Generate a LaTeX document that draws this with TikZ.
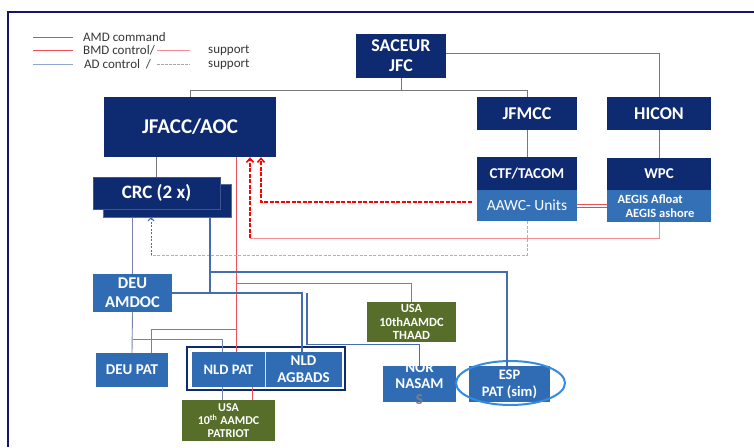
\documentclass[tikz,border=0pt]{standalone}
\usepackage{fontspec}
\setmainfont{Carlito}
\usetikzlibrary{arrows.meta}
\definecolor{navy}{RGB}{14,42,112}
\definecolor{lowblue}{RGB}{52,112,182}
\definecolor{midblue}{RGB}{47,108,180}
\definecolor{olivebox}{RGB}{86,110,42}
\definecolor{framec}{RGB}{22,22,100}
\definecolor{redl}{RGB}{240,80,90}
\definecolor{pinkl}{RGB}{245,140,150}
\definecolor{adblue}{RGB}{70,110,175}
\definecolor{adgray}{RGB}{120,130,170}
\definecolor{amdgray}{RGB}{120,120,120}
\definecolor{legtext}{RGB}{55,55,55}
\definecolor{ellc}{RGB}{50,140,225}
\begin{document}
\begin{tikzpicture}[x=1pt,y=-1pt,
  box/.style={rectangle, inner sep=0pt, text=white, align=center},
  dark/.style={box, fill=navy},
  light/.style={box, fill=lowblue},
  mid/.style={box, fill=midblue},
  olive/.style={box, fill=olivebox},
  fs/.style 2 args={font=\fontsize{#1}{#2}\selectfont\bfseries},
  amd/.style={draw=amdgray, line width=0.9pt},
  bmd/.style={draw=redl, line width=0.9pt},
  bmdthin/.style={draw=pinkl, line width=0.9pt},
  bmddash/.style={draw=red, line width=1.6pt, dash pattern=on 4pt off 1.5pt},
  ad/.style={draw=adblue, line width=1.3pt},
  adg/.style={draw=adgray, line width=0.9pt},
  adsup/.style={draw=gray!60, line width=0.8pt, dash pattern=on 3pt off 1.5pt},
  adsupb/.style={draw=adblue, line width=1pt, dash pattern=on 2pt off 1.5pt},
  chev/.style={-{Straight Barb[length=4pt,width=7pt]}},
  legtxt/.style={anchor=west, text=legtext, font=\fontsize{13}{15}\selectfont, inner sep=0pt}
]
\useasboundingbox (0,0) rectangle (754,447);
\fill[white] (0,0) rectangle (754,447);
\draw[framec, line width=2.5pt] (8,447) -- (8,12) -- (754,12);

% legend
\coordinate (l1a) at (33,37); \coordinate (l1b) at (73,37);
\coordinate (l2a) at (33,50); \coordinate (l2b) at (73,50);
\coordinate (l3a) at (33,64); \coordinate (l3b) at (73,64);
\coordinate (l4a) at (157,50); \coordinate (l4b) at (190,50);
\coordinate (l5a) at (157,64); \coordinate (l5b) at (190,64);
\draw[amd] (l1a) -- (l1b);
\draw[bmd] (l2a) -- (l2b);
\draw[draw=adblue!60, line width=0.9pt] (l3a) -- (l3b);
\draw[bmdthin] (l4a) -- (l4b);
\draw[draw=gray!70, line width=0.6pt, dash pattern=on 3pt off 1pt] (l5a) -- (l5b);
\node[legtxt] (t1) at (83,37) {AMD command};
\node[legtxt] (t2) at (83,50) {BMD control/};
\node[legtxt] (t3) at (84,64) {AD control\ \ /};
\node[legtxt] (t4) at (208,50) {support};
\node[legtxt] (t5) at (208,64) {support};

% nodes
\node[dark, fs={18}{20}, minimum width=90pt, minimum height=44pt] (saceur) at (401,56) {SACEUR\\JFC};
\node[dark, fs={21}{24}, minimum width=172pt, minimum height=60pt] (jfacc) at (190,127) {JFACC/AOC};
\node[dark, fs={18}{20}, minimum width=100pt, minimum height=33pt] (jfmcc) at (527,113.5) {JFMCC};
\node[dark, fs={18}{20}, minimum width=104pt, minimum height=33pt] (hicon) at (659,113.5) {HICON};
\node[dark, fs={15}{17}, minimum width=100pt, minimum height=33pt] (ctf) at (527,173.5) {CTF/TACOM};
\node[light, font=\fontsize{15.5}{17}\selectfont, minimum width=100pt, minimum height=31pt] (aawc) at (527,205.5) {AAWC- Units};
\node[dark, fs={15}{17}, minimum width=104pt, minimum height=32pt] (wpc) at (659,174) {WPC};
\node[light, minimum width=104pt, minimum height=32pt] (aegis) at (659,206) {};
\node[box, fs={12.5}{14}, align=left, inner sep=0pt] (aegist) at (656,206) {AEGIS Afloat\\\hspace*{8pt}AEGIS ashore};

\node[dark, draw=navy!70!white, line width=0.4pt, minimum width=128pt, minimum height=33pt] (crc) at (167,200.5) {};
\node[dark, draw=navy!80!white, line width=0.4pt, fs={19}{21}, minimum width=127pt, minimum height=32pt] (crcf) at (156.5,193) {CRC (2 x)};

\node[mid, fs={16.5}{19}, minimum width=79pt, minimum height=38pt] (deu) at (132.5,293) {DEU\\AMDOC};
\node[mid, fs={15}{17}, minimum width=72pt, minimum height=34pt] (depat) at (132,370) {DEU PAT};

\draw[draw=navy, line width=2.5pt, fill=white] (187,347) rectangle (345,390);
\node[mid, fs={14.5}{17}, minimum width=73pt, minimum height=35pt] (nldpat) at (228.5,369.5) {NLD PAT};
\node[mid, fs={15}{17}, minimum width=77pt, minimum height=35pt] (agbads) at (303.5,369.5) {NLD\\AGBADS};
\draw[white!80!midblue, line width=0.8pt] (nldpat.north east) -- (nldpat.south east);

\node[olive, fs={12}{13}, minimum width=93pt, minimum height=41pt] (patriot) at (228.5,420.5) {USA\\10\textsuperscript{th} AAMDC\\PATRIOT};
\node[olive, fs={12.5}{13.5}, minimum width=89pt, minimum height=40pt] (thaad) at (411.5,322) {USA\\10thAAMDC\\THAAD};
\node[mid, minimum width=73pt, minimum height=36pt] (nasams) at (419.5,384) {};
\node[box, fs={15}{16}] (nasamst) at (419.5,384) {NOR\\NASAM\\\textcolor{gray}{S}};
\node[mid, fs={14.5}{17}, minimum width=81pt, minimum height=36pt] (esp) at (509.5,384) {ESP\\PAT (sim)};
\draw[ellc, line width=2pt] (510.5,383) ellipse [x radius=54.5pt, y radius=22pt];

% AMD command (gray)
\coordinate (sb) at (401,90);
\draw[amd] (saceur.south) -- (sb);
\draw[amd] (sb) -| (jfacc.north);
\draw[amd] (sb) -| (jfmcc.north);
\draw[amd] ([yshift=3pt]saceur.east) -| (hicon.north);
\draw[amd] (jfmcc.south) -- (ctf.north);
\draw[amd] (hicon.south) -- (wpc.north);
\draw[amd] (crcf.north |- jfacc.south) -- (crcf.north);

% BMD control (red)
\coordinate (rj1) at (236,329);
\coordinate (rj2) at (236,283);
\draw[bmd] ([xshift=46pt]jfacc.south) -- ([xshift=46pt]jfacc.south |- nldpat.north);
\draw[bmd] (rj1) -| ([xshift=19pt]depat.north);
\draw[bmd] (rj2) -| (thaad.north);
\draw[bmd] ([xshift=23.5pt]nldpat.south) -- ([xshift=23.5pt]nldpat.south |- patriot.north);
\draw[bmd] ([yshift=1pt]aawc.east) -- ([yshift=1pt]aawc.east -| aegis.west);
\draw[amd, line width=0.6pt] ([yshift=-1.5pt]aawc.east) -- ([yshift=-1.5pt]aawc.east -| aegis.west);

% BMD support
\coordinate (c1) at (250,238);
\draw[bmdthin] (aegis.south) |- (c1);
\draw[bmddash, chev] (c1) -- (jfacc.south -| c1);
\draw[bmddash, chev] ([xshift=-5pt,yshift=3.5pt]aawc.west) -| ([xshift=71pt]jfacc.south);

% AD support
\coordinate (c2) at (151,255);
\draw[adsup] (aawc.south) |- (c2);
\draw[adsupb, -{Straight Barb[length=3pt,width=6pt]}] (c2) -- ([xshift=-16pt]crc.south);

% AD control
\coordinate (b1) at (210,272);
\coordinate (b2) at (210,293);
\coordinate (b3) at (307,293);
\coordinate (b5) at (132.5,339);
\draw[adg] (deu.north |- crc.south) -- (deu.north);
\draw[ad] ([xshift=43pt]crc.south) -- (b2);
\draw[ad] (b1) -| ([xshift=-2.5pt]esp.north);
\draw[ad] (deu.east) -| ([xshift=-1.5pt]agbads.north);
\draw[ad] (b3) |- ([yshift=21pt]nasams.north) -- (nasams.north);
\draw[adg] (deu.south) -- (depat.north);
\draw[adg] (b5) -| ([xshift=-6.5pt]nldpat.north);
\draw[adg] ([xshift=-6.5pt]nldpat.south) -- ([xshift=-6.5pt]nldpat.south |- patriot.north);
\end{tikzpicture}
\end{document}
